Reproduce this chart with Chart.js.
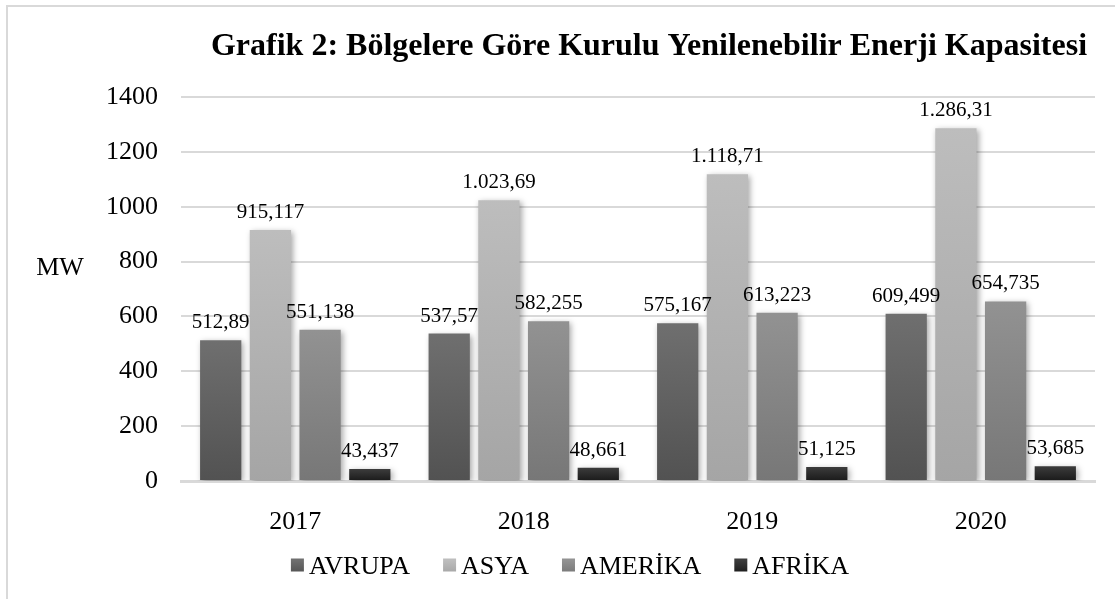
<!DOCTYPE html>
<html lang="tr">
<head>
    <meta charset="UTF-8">
    <title>Grafik 2: Bölgelere Göre Kurulu Yenilenebilir Enerji Kapasitesi</title>
    <script src="https://cdn.jsdelivr.net/npm/chart.js"></script>
    <style>
        html, body {
            margin: 0;
            padding: 0;
            background: #ffffff;
        }
        .chart-container {
            width: 1115px;
            height: 599px;
            position: relative;
        }
    </style>
</head>
<body>
    <div class="chart-container">
        <canvas id="kapasiteChart"></canvas>
    </div>

    <script>
        // Yıllar ve bölgelere göre kurulu kapasite (MW)
        const yillar = ['2017', '2018', '2019', '2020'];
        const avrupa = [512.89, 537.57, 575.167, 609.499];
        const asya = [915.117, 1023.69, 1118.71, 1286.31];
        const amerika = [551.138, 582.255, 613.223, 654.735];
        const afrika = [43.437, 48.661, 51.125, 53.685];
        const yTicks = [0, 200, 400, 600, 800, 1000, 1200, 1400];

        const baslik = 'Grafik 2: Bölgelere Göre Kurulu Yenilenebilir Enerji Kapasitesi';
        const serif = '"Liberation Serif", "Times New Roman", serif';

        // Her seri için gradyan renkleri (üst, alt)
        const renkler = {
            AVRUPA: ['#6f6f6f', '#525252'],
            ASYA: ['#bdbdbd', '#a5a5a5'],
            'AMERİKA': ['#929292', '#777777'],
            'AFRİKA': ['#3c3c3c', '#1a1a1a']
        };

        // 1023.69 -> "1.023,69"
        function trFormat(v) {
            const parts = String(v).split('.');
            const tam = parts[0].replace(/\B(?=(\d{3})+(?!\d))/g, '.');
            return parts.length > 1 ? tam + ',' + parts[1] : tam;
        }

        function barGradient(name) {
            return function (context) {
                const chart = context.chart;
                if (!chart.chartArea || context.parsed === undefined) return renkler[name][0];
                const y = chart.scales.y;
                const top = y.getPixelForValue(context.parsed.y);
                const bottom = y.getPixelForValue(0);
                const g = chart.ctx.createLinearGradient(0, top, 0, bottom);
                g.addColorStop(0, renkler[name][0]);
                g.addColorStop(1, renkler[name][1]);
                return g;
            };
        }

        function seri(name, data) {
            return {
                label: name,
                data: data,
                backgroundColor: barGradient(name),
                borderWidth: 0,
                categoryPercentage: 0.87,
                barPercentage: 0.83
            };
        }

        // Çerçeve, başlık ve "MW" etiketi
        const cerceve = {
            id: 'cerceve',
            beforeDraw(chart) {
                const ctx = chart.ctx;
                ctx.save();
                ctx.strokeStyle = '#d9d9d9';
                ctx.lineWidth = 2;
                ctx.beginPath();
                ctx.moveTo(7, chart.height);
                ctx.lineTo(7, 6);
                ctx.lineTo(chart.width, 6);
                ctx.stroke();
                ctx.restore();
            },
            afterDraw(chart) {
                const ctx = chart.ctx;
                ctx.save();
                ctx.fillStyle = '#000000';
                ctx.textAlign = 'center';
                ctx.textBaseline = 'middle';
                ctx.font = 'bold 32px ' + serif;
                ctx.fillText(baslik, 649, 47);
                ctx.font = '26px ' + serif;
                ctx.fillText('MW', 60, 268);
                ctx.restore();
            }
        };

        // Alttaki açıklama: kare işaret, hemen yanında seri adı
        const aciklama = {
            id: 'aciklama',
            afterDraw(chart) {
                const ctx = chart.ctx;
                const kutu = 13, bosluk = 5, aralik = 33, merkezX = 570, y = 567;
                ctx.save();
                ctx.font = '26px ' + serif;
                ctx.textBaseline = 'middle';
                ctx.textAlign = 'left';
                const items = chart.data.datasets.map(ds => ({
                    text: ds.label,
                    w: kutu + bosluk + ctx.measureText(ds.label).width
                }));
                const toplam = items.reduce((a, it) => a + it.w, 0) + aralik * (items.length - 1);
                let x = merkezX - toplam / 2;
                items.forEach(it => {
                    const g = ctx.createLinearGradient(0, y - kutu / 2, 0, y + kutu / 2);
                    g.addColorStop(0, renkler[it.text][0]);
                    g.addColorStop(1, renkler[it.text][1]);
                    ctx.fillStyle = g;
                    ctx.fillRect(x, y - kutu / 2 - 2, kutu, kutu);
                    ctx.fillStyle = '#000000';
                    ctx.fillText(it.text, x + kutu + bosluk, y);
                    x += it.w + aralik;
                });
                ctx.restore();
            }
        };

        // Çubuk gölgeleri
        const golge = {
            id: 'golge',
            beforeDatasetsDraw(chart) {
                const ctx = chart.ctx;
                ctx.save();
                ctx.shadowColor = 'rgba(0, 0, 0, 0.35)';
                ctx.shadowBlur = 6;
                ctx.shadowOffsetX = 2;
                ctx.shadowOffsetY = 2;
            },
            afterDatasetsDraw(chart) {
                chart.ctx.restore();
            }
        };

        // Çubukların üstündeki değer etiketleri
        const degerler = {
            id: 'degerler',
            afterDatasetsDraw(chart) {
                const ctx = chart.ctx;
                ctx.save();
                ctx.fillStyle = '#000000';
                ctx.font = '21px ' + serif;
                ctx.textAlign = 'center';
                ctx.textBaseline = 'bottom';
                chart.data.datasets.forEach((ds, i) => {
                    const meta = chart.getDatasetMeta(i);
                    meta.data.forEach((bar, j) => {
                        ctx.fillText(trFormat(ds.data[j]), bar.x, bar.y - 7);
                    });
                });
                ctx.restore();
            }
        };

        const ctx = document.getElementById('kapasiteChart').getContext('2d');
        new Chart(ctx, {
            type: 'bar',
            data: {
                labels: yillar,
                datasets: [
                    seri('AVRUPA', avrupa),
                    seri('ASYA', asya),
                    seri('AMERİKA', amerika),
                    seri('AFRİKA', afrika)
                ]
            },
            options: {
                responsive: true,
                maintainAspectRatio: false,
                animation: false,
                layout: {
                    padding: { top: 97, left: 45, right: 20, bottom: 58 }
                },
                plugins: {
                    title: { display: false },
                    tooltip: { enabled: false },
                    legend: { display: false }
                },
                scales: {
                    x: {
                        grid: { display: false },
                        border: { display: true, color: '#d9d9d9', width: 3 },
                        ticks: {
                            font: { family: serif, size: 26 },
                            color: '#000000',
                            padding: 18
                        },
                        afterFit(scale) { scale.height = 60; }
                    },
                    y: {
                        min: 0,
                        max: 1400,
                        afterBuildTicks(scale) {
                            scale.ticks = yTicks.map(v => ({ value: v }));
                        },
                        grid: {
                            color: '#d9d9d9',
                            lineWidth: 2,
                            drawTicks: false
                        },
                        border: { display: false },
                        ticks: {
                            font: { family: serif, size: 26 },
                            color: '#000000',
                            padding: 23,
                            callback: v => String(v)
                        },
                        afterFit(scale) { scale.width = 136; }
                    }
                }
            },
            plugins: [cerceve, golge, degerler, aciklama]
        });
    </script>
</body>
</html>
